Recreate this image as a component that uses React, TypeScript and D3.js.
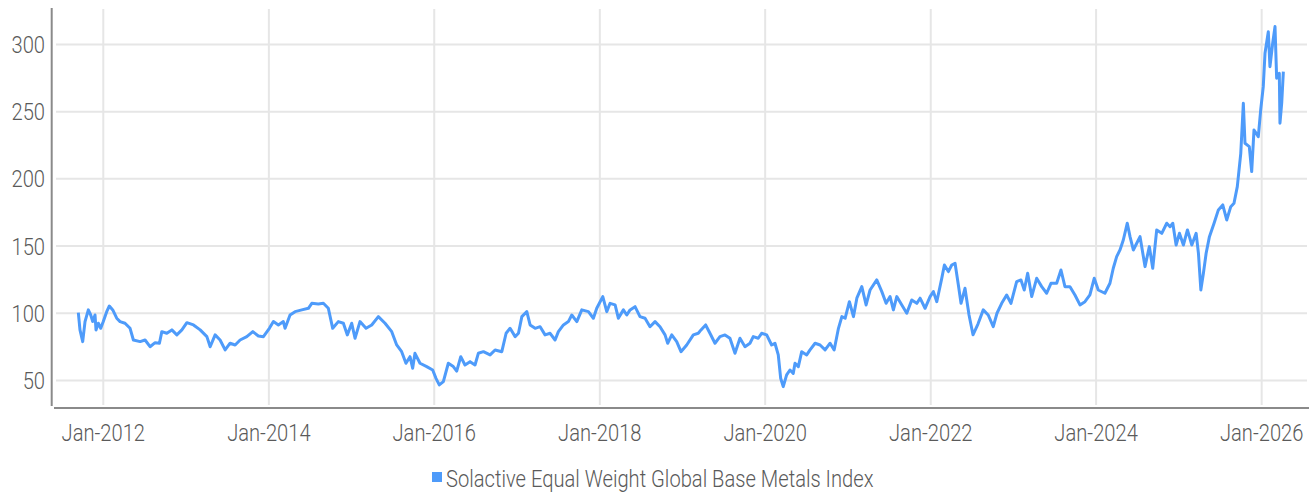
import React from 'react';
import * as d3 from 'd3';

// 日期用小数年份表示，数值为指数点位
const dates = [
  2011.698, 2011.718, 2011.751, 2011.779, 2011.819, 2011.848, 2011.872, 2011.9, 2011.912, 2011.94, 2011.969,
  2012.0, 2012.041, 2012.073, 2012.114, 2012.162, 2012.202, 2012.262, 2012.323, 2012.363, 2012.444, 2012.504,
  2012.564, 2012.625, 2012.677, 2012.706, 2012.766, 2012.827, 2012.887, 2012.948,
  2013.008, 2013.088, 2013.169, 2013.25, 2013.29, 2013.35, 2013.41, 2013.471, 2013.531, 2013.592, 2013.652,
  2013.733, 2013.806, 2013.873, 2013.934,
  2014.006, 2014.055, 2014.115, 2014.175, 2014.196, 2014.256, 2014.317, 2014.398, 2014.478, 2014.519, 2014.598,
  2014.659, 2014.719, 2014.772, 2014.84, 2014.901, 2014.949,
  2015.002, 2015.042, 2015.102, 2015.175, 2015.244, 2015.324, 2015.405, 2015.486, 2015.546, 2015.606, 2015.658,
  2015.707, 2015.739, 2015.767, 2015.828, 2015.909, 2015.981,
  2016.021, 2016.061, 2016.11, 2016.17, 2016.23, 2016.271, 2016.32, 2016.371, 2016.432, 2016.492, 2016.532,
  2016.593, 2016.674, 2016.734, 2016.815, 2016.867, 2016.915, 2016.976,
  2017.016, 2017.057, 2017.117, 2017.157, 2017.218, 2017.278, 2017.338, 2017.399, 2017.459, 2017.499, 2017.56,
  2017.62, 2017.661, 2017.722, 2017.782, 2017.862, 2017.922, 2017.963,
  2018.036, 2018.084, 2018.124, 2018.185, 2018.224, 2018.285, 2018.326, 2018.366, 2018.426, 2018.486, 2018.547,
  2018.607, 2018.668, 2018.728, 2018.789, 2018.821, 2018.87, 2018.93, 2018.982,
  2019.051, 2019.131, 2019.191, 2019.224, 2019.28, 2019.332, 2019.393, 2019.453, 2019.514, 2019.574, 2019.635,
  2019.695, 2019.756, 2019.816, 2019.856, 2019.916, 2019.957,
  2020.018, 2020.078, 2020.118, 2020.158, 2020.187, 2020.218, 2020.259, 2020.299, 2020.339, 2020.36, 2020.4,
  2020.441, 2020.501, 2020.541, 2020.602, 2020.662, 2020.723, 2020.783, 2020.832, 2020.884, 2020.925, 2020.965,
  2021.016, 2021.065, 2021.106, 2021.166, 2021.218, 2021.266, 2021.347, 2021.408, 2021.46, 2021.508, 2021.548,
  2021.589, 2021.65, 2021.71, 2021.77, 2021.831, 2021.871, 2021.931, 2021.992,
  2022.032, 2022.073, 2022.133, 2022.165, 2022.213, 2022.254, 2022.294, 2022.334, 2022.366, 2022.414, 2022.463,
  2022.511, 2022.571, 2022.635, 2022.695, 2022.756, 2022.801, 2022.858, 2022.918, 2022.97,
  2023.039, 2023.091, 2023.131, 2023.172, 2023.221, 2023.281, 2023.342, 2023.402, 2023.454, 2023.523, 2023.575,
  2023.623, 2023.684, 2023.744, 2023.805, 2023.865, 2023.925, 2023.977,
  2024.026, 2024.106, 2024.167, 2024.207, 2024.248, 2024.288, 2024.328, 2024.376, 2024.409, 2024.449, 2024.49,
  2024.53, 2024.59, 2024.642, 2024.683, 2024.731, 2024.792, 2024.852, 2024.892, 2024.925, 2024.965,
  2025.005, 2025.053, 2025.102, 2025.155, 2025.207, 2025.235, 2025.264, 2025.295, 2025.328, 2025.368, 2025.424,
  2025.476, 2025.529, 2025.577, 2025.626, 2025.665, 2025.705, 2025.747, 2025.778, 2025.798, 2025.85, 2025.879,
  2025.907, 2025.959, 2025.988,
  2026.019, 2026.04, 2026.08, 2026.1, 2026.133, 2026.161, 2026.181, 2026.213, 2026.221, 2026.242, 2026.262,
];

const values = [
  100.4, 87.6, 78.9, 93.8, 102.5, 98.7, 93.8, 98.7, 87.6, 92.6, 88.8,
  93.8, 101.2, 105.4, 102.5, 96.3, 93.8, 92.6, 88.8, 80.1, 78.9, 80.1,
  75.1, 78.1, 77.7, 86.3, 85.1, 87.6, 83.9, 87.6,
  93.0, 91.3, 87.6, 82.6, 75.1, 83.9, 80.1, 72.7, 77.7, 76.4, 80.1,
  82.6, 86.3, 83.1, 82.6,
  88.8, 93.8, 91.3, 93.8, 88.8, 98.7, 101.2, 102.5, 103.7, 107.4, 106.9,
  107.4, 103.7, 88.8, 93.8, 92.6, 83.9,
  92.6, 81.4, 93.8, 88.8, 91.3, 97.5, 92.6, 86.3, 76.4, 71.4, 62.8,
  67.7, 59.1, 70.2, 62.8, 60.3, 57.8,
  51.6, 46.7, 49.1, 62.8, 60.3, 57.0, 67.7, 61.5, 64.0, 61.5, 70.2,
  71.4, 69.0, 72.7, 71.4, 85.1, 88.8, 82.6,
  85.1, 97.5, 101.2, 91.3, 88.8, 90.0, 83.9, 85.1, 80.1, 86.3, 91.3,
  93.8, 98.7, 93.8, 102.5, 101.2, 96.3, 103.7,
  112.4, 101.2, 107.4, 106.2, 96.3, 102.5, 98.7, 102.5, 104.9, 97.5, 96.3,
  90.0, 93.8, 90.0, 83.9, 77.7, 83.9, 78.9, 71.4,
  76.4, 83.9, 85.1, 87.6, 91.3, 85.1, 77.7, 82.6, 83.9, 81.4, 70.2,
  81.4, 75.1, 77.7, 82.6, 81.4, 85.1,
  83.9, 76.4, 77.7, 69.0, 51.6, 45.4, 54.1, 57.8, 55.3, 62.8, 60.3,
  71.4, 69.0, 72.7, 77.7, 76.4, 72.7, 77.7, 72.7, 88.8, 97.5, 96.3,
  108.6, 97.5, 111.2, 119.8, 106.2, 117.3, 124.8, 116.1, 107.4, 112.4, 102.5,
  112.4, 106.2, 100.0, 109.9, 107.4, 111.2, 103.7, 112.4,
  116.1, 108.6, 126.0, 135.9, 131.0, 135.9, 137.2, 121.1, 107.4, 118.6, 98.7,
  84.0, 92.0, 102.5, 98.7, 90.0, 100.0, 107.4, 113.6, 107.4,
  123.5, 124.8, 117.3, 129.8, 112.4, 126.0, 119.8, 114.9, 122.3, 122.3, 132.2,
  119.8, 119.8, 113.6, 106.2, 108.6, 113.6, 126.0,
  117.3, 114.9, 122.3, 133.5, 142.1, 147.1, 154.5, 167.0, 157.0, 147.1, 152.1,
  157.0, 134.7, 149.6, 133.5, 162.0, 159.5, 167.0, 164.4, 167.0, 150.8,
  159.5, 150.8, 162.0, 150.8, 159.5, 144.6, 117.3, 129.8, 144.6, 157.0, 167.0,
  176.9, 180.6, 169.4, 179.3, 181.8, 194.2, 219.0, 256.3, 226.5, 224.0, 205.4,
  236.4, 231.4, 251.3,
  268.6, 293.4, 309.5, 283.5, 300.9, 313.3, 274.9, 278.6, 241.4, 256.3, 279.8,
];

const yTicks = [50, 100, 150, 200, 250, 300];
const xTickYears = [2012, 2014, 2016, 2018, 2020, 2022, 2024, 2026];
const seriesName = 'Solactive Equal Weight Global Base Metals Index';

// 小数年份转日期
const toDate = (t: number) => {
  const y = Math.floor(t);
  const a = new Date(y, 0, 1).getTime();
  const b = new Date(y + 1, 0, 1).getTime();
  return new Date(a + (t - y) * (b - a));
};

const W = 1316;
const H = 493;
const left = 56;
const right = 1307;
const top = 9;
const bottom = 408;

const FONT = 'Roboto, "Noto Sans", sans-serif';
const TEXT = '#5a5a5a';
const BLUE = '#4e9bfa';
const SX = 0.84; // 横向压缩，模拟窄体字

// 窄体文字
const Label = ({ x, y, anchor, children }: { x: number; y: number; anchor: string; children: React.ReactNode }) => (
  <text
    transform={`translate(${x},${y}) scale(${SX},1)`}
    textAnchor={anchor}
    fontFamily={FONT}
    fontWeight={300}
    fontSize={24}
    fill={TEXT}
  >
    {children}
  </text>
);

const App = () => {
  const data = dates.map((t, i) => ({ date: toDate(t), value: values[i] }));

  const x = d3.scaleTime().domain([toDate(2011.428), toDate(2026.548)]).range([left, right]);
  const y = d3.scaleLinear().domain([29.5, 326.4]).range([bottom, top]);

  const line = d3
    .line<{ date: Date; value: number }>()
    .x((d) => x(d.date))
    .y((d) => y(d.value));

  const fmt = d3.timeFormat('%b-%Y');

  return (
    <svg width={W} height={H} style={{ position: 'absolute', left: 0, top: 0 }}>
      {/* 网格线 */}
      {yTicks.map((v) => (
        <line key={'h' + v} x1={left} x2={right} y1={y(v)} y2={y(v)} stroke="#e6e6e6" strokeWidth={2} />
      ))}
      {xTickYears.map((yr) => (
        <line key={'v' + yr} x1={x(new Date(yr, 0, 1))} x2={x(new Date(yr, 0, 1))} y1={top} y2={405} stroke="#e6e6e6" strokeWidth={2} />
      ))}

      {/* 坐标轴 */}
      <line x1={51.7} x2={51.7} y1={8} y2={406} stroke="#8a8a8a" strokeWidth={2} />
      <line x1={54} x2={1309} y1={bottom} y2={bottom} stroke="#8a8a8a" strokeWidth={2} />

      {/* 数据线 */}
      <path d={line(data) || ''} fill="none" stroke={BLUE} strokeWidth={3} strokeLinejoin="round" />

      {/* y轴标签 */}
      {yTicks.map((v) => (
        <Label key={'yt' + v} x={45} y={y(v) + 8.5} anchor="end">
          {v}
        </Label>
      ))}

      {/* x轴标签 */}
      {xTickYears.map((yr) => (
        <Label key={'xt' + yr} x={x(new Date(yr, 0, 1))} y={441} anchor="middle">
          {fmt(new Date(yr, 0, 1))}
        </Label>
      ))}

      {/* 图例 */}
      <rect x={432} y={472} width={10} height={10} fill={BLUE} />
      <Label x={446} y={487} anchor="start">
        {seriesName}
      </Label>
    </svg>
  );
};

export default App;
